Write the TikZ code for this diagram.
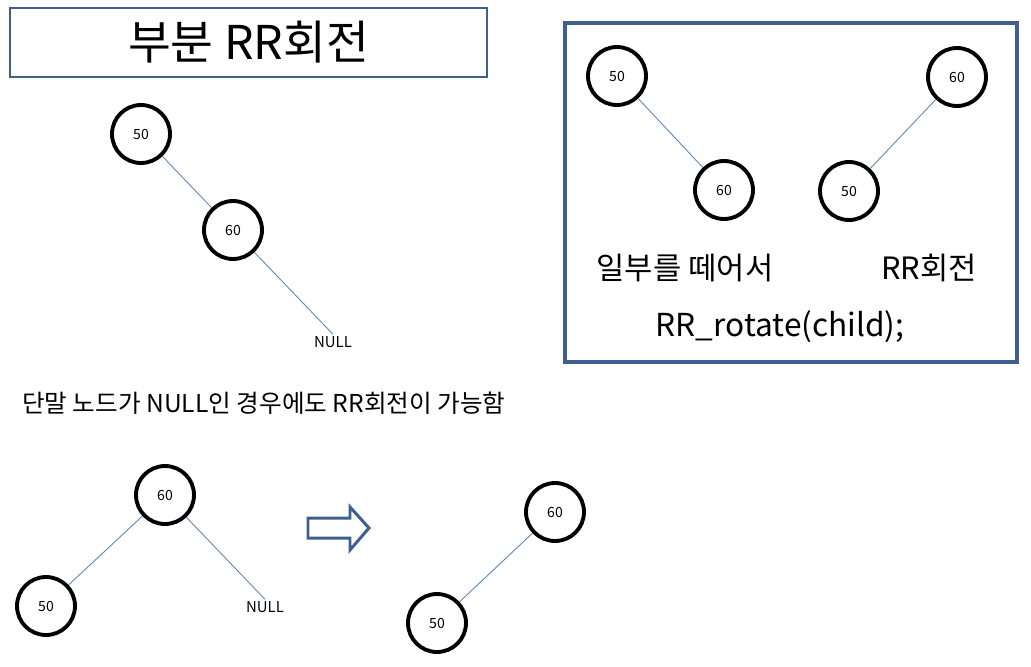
\documentclass[tikz,border=0pt]{standalone}
\usepackage{fontspec}
\setmainfont{Noto Sans CJK KR}
\usetikzlibrary{positioning}
\definecolor{boxblue}{HTML}{3F5F8F}
\definecolor{edgeblue}{HTML}{5B87C0}

\tikzset{
  keynode/.style={circle, draw, line width=2.2pt, minimum size=1.16cm, inner sep=0pt,
    font=\fontsize{8}{8}\selectfont},
  nullnode/.style={inner sep=1pt, font=\fontsize{8.5}{9}\selectfont},
  link/.style={edgeblue, line width=0.5pt},
}

\begin{document}
\begin{tikzpicture}[x=0.02cm, y=-0.02cm]
\useasboundingbox (0,0) rectangle (1031,666);

% Title box
\node[draw=boxblue, line width=0.8pt, minimum width=9.54cm, minimum height=1.38cm,
  font=\fontsize{26.5}{28}\selectfont] (title) at (248.5,42.5) {부분 RR회전};

% Partial tree: 50 -> 60 -> NULL
\node[keynode] (a50) at (141,134) {50};
\node[keynode] (a60) at (233,230) {60};
\node[nullnode] (anull) at (333,342) {NULL};
\draw[link] (a50) -- (a60);
\draw[link] (a60) -- (anull.north);

% Framed part on the right
\draw[boxblue, line width=1.8pt] (565,23) rectangle (1017,362);
\node[keynode] (b50) at (617,76) {50};
\node[keynode] (b60) at (724,190) {60};
\node[keynode] (c60) at (957,77) {60};
\node[keynode] (c50) at (849,191) {50};
\draw[link] (b50) -- (b60);
\draw[link] (c60) -- (c50);
\node[font=\fontsize{17.5}{19}\selectfont] (cut) at (685,268) {일부를 떼어서};
\node[font=\fontsize{17.5}{19}\selectfont] (rot) at (929,268) {RR회전};
\node[font=\fontsize{18}{21}\selectfont] (call) at (780,327) {RR\_rotate(child);};

% Note
\node[anchor=west, font=\fontsize{14}{16}\selectfont] (note) at (16,403)
  {단말 노드가 NULL인 경우에도 RR회전이 가능함};

% Before: 60 with 50 and NULL
\node[keynode] (d60) at (165,495) {60};
\node[keynode] (d50) at (46,606) {50};
\node[nullnode] (dnull) at (265,607) {NULL};
\draw[link] (d60) -- (d50);
\draw[link] (d60) -- (dnull.north);

% Block arrow
\draw[boxblue, line width=1.7pt, fill=white]
  (308,518) -- (350,518) -- (350,507) -- (369,528) -- (350,550) -- (350,538)
  -- (308,538) -- cycle;

% After: 60 with 50
\node[keynode] (e60) at (555,512) {60};
\node[keynode] (e50) at (437,623) {50};
\draw[link] (e60) -- (e50);

\end{tikzpicture}
\end{document}
